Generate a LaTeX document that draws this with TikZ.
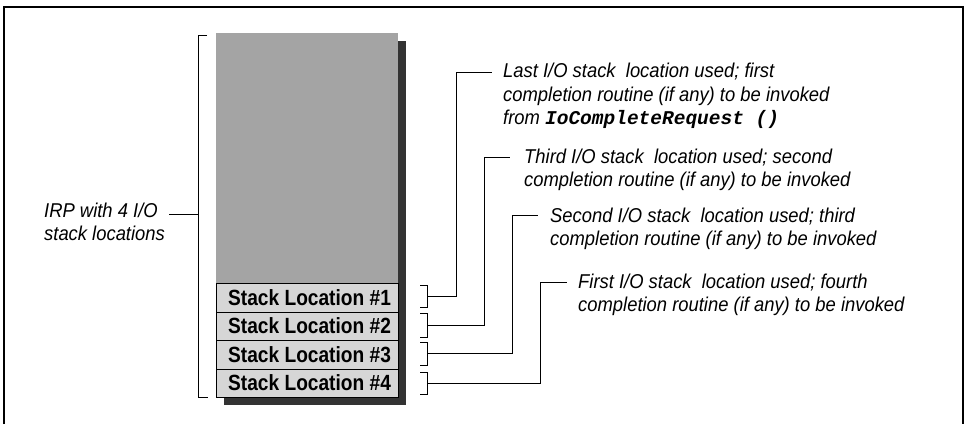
\documentclass[tikz,border=0pt]{standalone}
\usepackage{fontspec}
\newfontfamily\itnarrow[FakeStretch=0.92]{Liberation Sans}
\newfontfamily\boldnarrow[FakeStretch=0.87]{Liberation Sans}
\newfontfamily\codefont{Liberation Mono}
\definecolor{topgray}{HTML}{A4A4A4}
\definecolor{rowgray}{HTML}{D6D6D6}
\definecolor{shadowgray}{HTML}{333333}
\begin{document}
\begin{tikzpicture}[x=1pt,y=-1pt,
  conn/.style={line width=0.8pt,black},
  frameline/.style={line width=1.8pt,black},
  desc/.style={anchor=base west,inner sep=0pt,align=left,
    font=\itnarrow\itshape\fontsize{20}{23.3}\selectfont},
  rowbox/.style={draw=black,line width=0.9pt,fill=rowgray,minimum width=182pt,
    minimum height=28.5pt,inner sep=0pt,anchor=north west},
  rowtext/.style={anchor=west,inner sep=0pt,font=\boldnarrow\bfseries\fontsize{22}{24}\selectfont}]
\useasboundingbox (0,0) rectangle (964,424);
% frame open at bottom
\draw[frameline] (4,424) -- (4,7) -- (963,7) -- (963,424);
% shadow
\fill[shadowgray] (224,41) rectangle (406,405);
% IRP body
\node[fill=topgray,minimum width=182pt,minimum height=250pt,inner sep=0pt,anchor=north west] (body) at (216,33) {};
\node[rowbox] (r1) at (216,283) {};
\node[rowbox] (r2) at (216,311.5) {};
\node[rowbox] (r3) at (216,340) {};
\node[rowbox] (r4) at (216,368.5) {};
\node[rowtext] (t1) at (228,297.5) {Stack Location \#1};
\node[rowtext] (t2) at (228,326) {Stack Location \#2};
\node[rowtext] (t3) at (228,354.5) {Stack Location \#3};
\node[rowtext] (t4) at (228,383) {Stack Location \#4};
% big bracket
\coordinate (bt) at (198,35);
\coordinate (bb) at (198,397);
\coordinate (bm) at (198,214);
\draw[conn] (207,35) -- (bt) -- (bb) -- (208,397);
\node[desc] (irp) at (44,240.3) {IRP with 4 I/O\\stack locations};
\coordinate (irpend) at (169,214);
\draw[conn] (bm) -- (irpend);
% small brackets
\draw[conn] (420,285) -- (427,285) -- (427,307) -- (420,307);
\draw[conn] (420,313) -- (427,313) -- (427,337) -- (420,337);
\draw[conn] (420,342) -- (427,342) -- (427,365) -- (420,365);
\draw[conn] (420,372) -- (427,372) -- (427,394) -- (420,394);
\coordinate (m1) at (427,296);
\coordinate (m2) at (427,325);
\coordinate (m3) at (427,353.5);
\coordinate (m4) at (427,383);
% descriptions (anchored at the baseline of their last line)
\node[desc] (d1) at (503,124.3) {Last I/O stack~ location used; first\\completion routine (if any) to be invoked\\from {\codefont\bfseries\itshape\fontsize{19.5}{23.3}\selectfont IoCompleteRequest ()}};
\node[desc] (d2) at (524,186.8) {Third I/O stack~ location used; second\\completion routine (if any) to be invoked};
\node[desc] (d3) at (550,245.3) {Second I/O stack~ location used; third\\completion routine (if any) to be invoked};
\node[desc] (d4) at (578,311.5) {First I/O stack~ location used; fourth\\completion routine (if any) to be invoked};
\coordinate (e1) at (492,72);
\coordinate (e2) at (510,157);
\coordinate (e3) at (538,215);
\coordinate (e4) at (567,282);
\draw[conn] (m1) -| (456,72) -- (e1);
\draw[conn] (m2) -| (484,157) -- (e2);
\draw[conn] (m3) -| (512,215) -- (e3);
\draw[conn] (m4) -| (540,282) -- (e4);
\end{tikzpicture}
\end{document}
